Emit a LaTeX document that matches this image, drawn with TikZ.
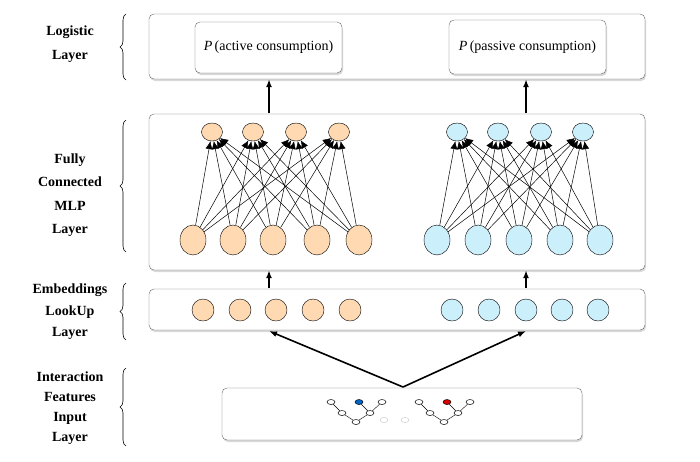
\documentclass[tikz,border=0pt]{standalone}
\usepackage{fontspec}
\setmainfont{Liberation Serif}
\usetikzlibrary{arrows.meta,decorations.pathreplacing,shadows,shapes.geometric}
\begin{document}
\begin{tikzpicture}[x=1pt,y=-1pt,
 layer/.style={draw=black!60,rounded corners=5pt,fill=white,drop shadow={opacity=0.3,shadow xshift=1pt,shadow yshift=-2pt}},
 onode/.style={draw=black,fill=orange!30!white,ellipse},
 bnode/.style={draw=black,fill=cyan!20!white,ellipse},
 conn/.style={-{Latex[length=8pt,width=7pt]},line width=0.5pt},
 bigarr/.style={-{Latex[length=8pt,width=6pt]},line width=1.6pt},
 lab/.style={font=\bfseries\fontsize{14}{23.5}\selectfont,align=center},
 br/.style={decorate,decoration={brace,amplitude=6pt},line width=0.6pt},
 tn/.style={draw=black,fill=white,ellipse,minimum width=8pt,minimum height=5pt,inner sep=0pt,line width=0.5pt}]
\useasboundingbox (0,0) rectangle (700,461);
% boxes
\node[layer,minimum width=496,minimum height=65] (log) at (397,46.5) {};
\node[layer,minimum width=147,minimum height=51,font=\fontsize{14}{16}\selectfont] (pa) at (268.5,47.5) {\textit{P}\,(active consumption)};
\node[layer,minimum width=157,minimum height=54,font=\fontsize{14}{16}\selectfont] (pp) at (527.5,47) {\textit{P}\,(passive consumption)};
\node[layer,minimum width=496,minimum height=156] (mlp) at (397,192) {};
\node[layer,minimum width=496,minimum height=41] (emb) at (397,309.5) {};
\node[layer,minimum width=360,minimum height=52] (inp) at (402,414) {};
% MLP nodes
\foreach \x [count=\i] in {212,253,296,339} \node[onode,minimum width=21,minimum height=18] (ot\i) at (\x,132) {};
\foreach \x [count=\i] in {457,498,541,583} \node[bnode,minimum width=21,minimum height=18] (bt\i) at (\x,132) {};
\foreach \x [count=\i] in {193,233,273,317,359} \node[onode,minimum width=26,minimum height=30] (ob\i) at (\x,240) {};
\foreach \x [count=\i] in {437,478,519,560,600} \node[bnode,minimum width=26,minimum height=30] (bb\i) at (\x,240) {};
\foreach \i in {1,...,5}{\foreach \j in {1,...,4}{
 \draw[conn] (ob\i) -- (ot\j);
 \draw[conn] (bb\i) -- (bt\j);}}
% embeddings
\foreach \x [count=\i] in {203,240,276,313,350} \node[onode,minimum width=22,minimum height=22] (oe\i) at (\x,310) {};
\foreach \x [count=\i] in {452,489,526,562,598} \node[bnode,minimum width=22,minimum height=22] (be\i) at (\x,310) {};
% arrows
\coordinate (pa0) at (269,113); \coordinate (pp0) at (526,113);
\draw[bigarr] (pa0) -- (pa0|-log.south);
\draw[bigarr] (pp0) -- (pp0|-log.south);
\coordinate (ea) at (269,288); \coordinate (ep) at (526,288);
\draw[bigarr] (ea) -- (ea|-mlp.south);
\draw[bigarr] (ep) -- (ep|-mlp.south);
\coordinate (src) at (403,387);
\coordinate (da) at (269,331); \coordinate (dp) at (526,331);
\draw[bigarr] (src) -- (da);
\draw[bigarr] (src) -- (dp);
% trees
\foreach \s/\c in {0/blue!50!cyan!80!black,88/red!85!black}{
 \begin{scope}[xshift=\s]
 \node[tn] (t1) at (331,402) {};
 \node[tn,fill=\c] (t2) at (359,402) {};
 \node[tn] (t3) at (382,402) {};
 \node[tn] (m1) at (342,413) {};
 \node[tn] (m2) at (370,413) {};
 \node[tn] (r) at (356,422) {};
 \draw (t1)--(m1) (m1)--(r) (r)--(m2) (m2)--(t2) (m2)--(t3);
 \end{scope}}
\node[tn,draw=black!20] (d1) at (384,420) {};
\node[tn,draw=black!20] (d2) at (405,420) {};
% labels
\node[lab] (l1) at (70,44) {Logistic\\Layer};
\node[lab] (l2) at (70,195) {Fully\\Connected\\MLP\\Layer};
\node[lab,font=\bfseries\fontsize{14}{21.5}\selectfont] (l3) at (70,312) {Embeddings\\LookUp\\Layer};
\node[lab,font=\bfseries\fontsize{14}{20}\selectfont] (l4) at (70,408) {Interaction\\Features\\Input\\Layer};
\draw[br] (126,80) -- (126,14);
\draw[br] (126,252) -- (126,120);
\draw[br] (126,340) -- (126,283);
\draw[br] (126,446) -- (126,368);
\end{tikzpicture}
\end{document}
